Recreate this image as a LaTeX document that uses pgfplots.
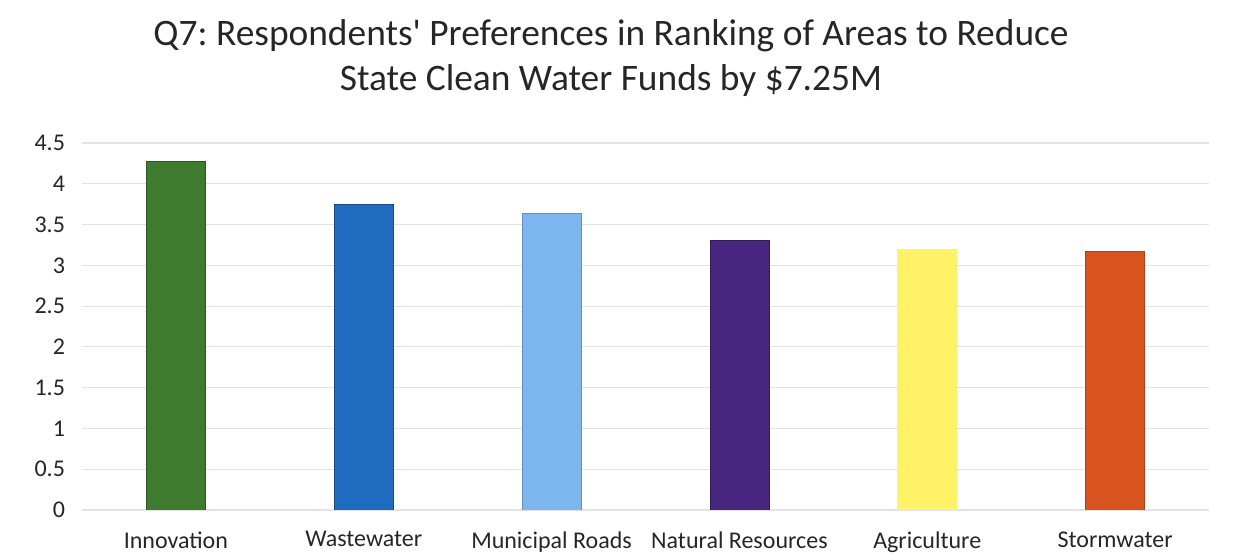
\documentclass[border=0pt]{standalone}
\usepackage{fontspec}
\setmainfont{Carlito}
\usepackage{pgfplots}
\pgfplotsset{compat=1.18}

\definecolor{cInno}{HTML}{3E7B2E}
\definecolor{cWaste}{HTML}{1F6BC0}
\definecolor{cRoads}{HTML}{7DB5EE}
\definecolor{cNat}{HTML}{46267F}
\definecolor{cAgri}{HTML}{FFF266}
\definecolor{cStorm}{HTML}{D9531E}

\begin{document}
\frenchspacing
\begin{tikzpicture}
\useasboundingbox (-41pt,-25pt) rectangle (580.5pt,255pt);
\begin{axis}[
    scale only axis,
    width=563.5pt, height=183.5pt,
    at={(0,0)}, anchor=south west,
    xmin=-0.5, xmax=5.5,
    ymin=0, ymax=4.5,
    xtick={0,1,2,3,4,5},
    xticklabels={Innovation,Wastewater,Municipal Roads,Natural Resources,Agriculture,Stormwater},
    ytick={0,0.5,1,1.5,2,2.5,3,3.5,4,4.5},
    yticklabels={0,0.5,1,1.5,2,2.5,3,3.5,4,4.5},
    ymajorgrids,
    grid style={gray!22, line width=0.6pt},
    axis line style={draw=none},
    tick style={draw=none},
    ticklabel style={font=\fontsize{12}{14}\selectfont, text=black!85},
    yticklabel style={xshift=-5pt},
    xticklabel style={yshift=-3pt},
    ybar, bar width=29.5pt, bar shift=0pt,
]
\addplot[fill=cInno, draw=cInno!70!black] coordinates {(0,4.27)};
\addplot[fill=cWaste, draw=cWaste!70!black] coordinates {(1,3.75)};
\addplot[fill=cRoads, draw=cRoads!80!black] coordinates {(2,3.64)};
\addplot[fill=cNat, draw=cNat!70!black] coordinates {(3,3.31)};
\addplot[fill=cAgri, draw=cAgri] coordinates {(4,3.19)};
\addplot[fill=cStorm, draw=cStorm!80!black] coordinates {(5,3.17)};
\end{axis}
\node[font=\fontsize{18.7}{22.5}\selectfont, text=black!85, align=center, anchor=center] at (264.5pt,226pt)
  {Q7: Respondents\textquotesingle{} Preferences in Ranking of Areas to Reduce\\State Clean Water Funds by \$7.25M};
\end{tikzpicture}
\end{document}
